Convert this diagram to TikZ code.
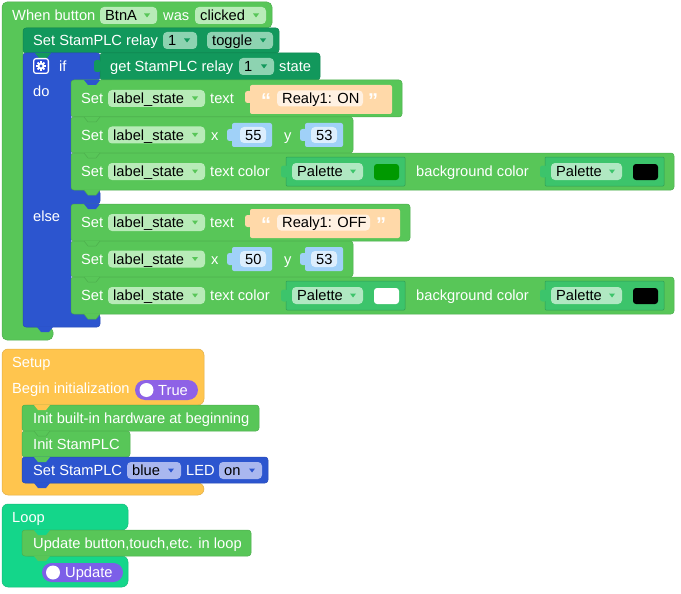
\documentclass[tikz,border=0pt]{standalone}
\usepackage{fontspec}
\setmainfont{Liberation Sans}

\definecolor{evgreen}{HTML}{58C658}
\definecolor{evfield}{HTML}{B8EBB8}
\definecolor{plcgreen}{HTML}{12985C}
\definecolor{plcfield}{HTML}{8DD3B1}
\definecolor{ctrlblue}{HTML}{2C55CF}
\definecolor{ctrlfield}{HTML}{A9B7EF}
\definecolor{setupyel}{HTML}{FFC54E}
\definecolor{loopteal}{HTML}{14D68A}
\definecolor{palgreen}{HTML}{3CC46B}
\definecolor{palfield}{HTML}{B0E8C2}
\definecolor{strblk}{HTML}{FFD9A9}
\definecolor{strfield}{HTML}{FFF1E2}
\definecolor{numblk}{HTML}{A0D1F8}
\definecolor{numfield}{HTML}{DCEEFD}
\definecolor{togpurple}{HTML}{8E62E6}
\definecolor{updpurple}{HTML}{7C5FE8}
\definecolor{swgreen}{HTML}{009900}

\begin{document}
\begin{tikzpicture}[
  x=1pt, y=-1pt,
  every node/.style={inner sep=0pt, font=\fontsize{14.67}{17}\selectfont},
  lbl/.style={anchor=base west, text=white},
  val/.style={anchor=base west, text=black},
  quot/.style={anchor=base west, text=white, font=\fontsize{20}{20}\selectfont\bfseries},
  blk/.style={fill=#1, draw=#1!88!black, line width=0.5pt, rounded corners=3pt},
  fld/.style={fill=#1, rounded corners=4pt},
  notch/.pic={\path[pic actions] (0,0) -- (4,5) -- (12,5) -- (16,0);},
  bump/.pic={\path[pic actions, rounded corners=2.5pt] (1,-6) -- (-6,-6) -- (-6,6) -- (1,6) -- cycle;}
]
  \useasboundingbox (0,0) rectangle (681,594);

  % event block
  \path[blk=evgreen, rounded corners=5pt] (2,2) -- (272,2) -- (272,28) -- (23,28) -- (23,327)
    -- (53,327) -- (53,340) -- (2,340) -- cycle;
  \path[blk=plcgreen] (23,28) rectangle (279,53);
  \path[blk=ctrlblue] (23,53) -- (100,53) -- (100,80) -- (71,80) -- (71,190) -- (100,190)
    -- (100,204) -- (71,204) -- (71,314) -- (100,314) -- (100,327) -- (23,327) -- cycle;
  \path[blk=plcgreen] (100,53) rectangle (320,80);
  \pic[fill=plcgreen] at (100,66) {bump};
  \pic[fill=plcgreen] at (35,53) {notch};
  \pic[fill=ctrlblue] at (37,327) {notch};

  \node[lbl] (when)  at (12,20.5) {When button};
  \node[lbl] (was)   at (163,20.5) {was};
  \node[lbl] (relay) at (33,45.5) {Set StamPLC relay};
  \node[lbl] (if)    at (59,71.5) {if};
  \node[lbl] (get)   at (110,71.5) {get StamPLC relay};
  \node[lbl] (state) at (279,71.5) {state};
  \node[lbl] (do)    at (33,97) {do};
  \node[lbl] (else)  at (33,221) {else};

  % mutator icon
  \fill[white, rounded corners=3pt] (33,58) rectangle (49,74);
  \fill[ctrlblue!85!blue, rounded corners=2pt] (34.3,59.3) rectangle (47.7,72.7);
  \foreach \a in {0,45,90,135}
    \fill[white, rotate around={\a:(41,66)}] (40,61.2) rectangle (42,70.8);
  \fill[white] (41,66) circle (3.6pt);
  \fill[ctrlblue] (41,66) circle (1.6pt);

  % do / else branches
  \foreach \g/\dy/\msg/\xv/\sw/\re/\oe/\fe/\qx in
    {on/0/Realy1: ON/55/swgreen/402/392/363/368, off/124/Realy1: OFF/50/white/410/400/370/376} {
  \begin{scope}[shift={(0,\dy)}]
    \path[blk=evgreen] (71,80) rectangle (\re,117);
    \path[blk=evgreen] (71,117) rectangle (353,153);
    \path[blk=evgreen] (71,153) rectangle (674,190);
    \pic[fill=ctrlblue] at (84,80) {notch};
    \foreach \yy in {117,153,190}
      \pic[fill=evgreen, draw=evgreen!88!black, line width=0.5pt] at (84,\yy) {notch};

    \foreach \c [count=\i] in {98.5,135,171.5} {
      \node[lbl] (set-\g-\i) at (81,\c+5) {Set};
      \fill[fld=evfield] (108,\c-8.5) rectangle (205,\c+8.5);
      \node[val] (lab-\g-\i) at (113,\c+5) {label\_state};
      \fill[evgreen] (192,\c-2) -- (198,\c-2) -- (195,\c+2) -- cycle;
    }

    % text
    \node[lbl] (text-\g) at (210,103.5) {text};
    \path[fill=strblk, rounded corners=2pt] (250,85) rectangle (\oe,114);
    \pic[fill=strblk] at (251,97) {bump};
    \fill[fld=strfield] (277,90.5) rectangle (\fe,106.5);
    \node[quot] (qa-\g) at (261,107.5) {“};
    \node[val] (msg-\g) at (282,103.5) {\msg};
    \node[quot] (qb-\g) at (\qx,107.5) {”};

    % position
    \node[lbl] (x-\g) at (211,140) {x};
    \path[fill=numblk, rounded corners=2pt] (232,123) rectangle (272,147);
    \pic[fill=numblk] at (233,135) {bump};
    \fill[fld=numfield] (240,127) rectangle (266,143);
    \node[val] (xv-\g) at (245,140) {\xv};
    \node[lbl] (y-\g) at (284,140) {y};
    \path[fill=numblk, rounded corners=2pt] (305,123) rectangle (343,147);
    \pic[fill=numblk] at (306,135) {bump};
    \fill[fld=numfield] (311,127) rectangle (337,143);
    \node[val] (yv-\g) at (316,140) {53};

    % colours
    \node[lbl] (tc-\g) at (210,176.5) {text color};
    \node[lbl] (bg-\g) at (416,176.5) {background color};
    \foreach \px/\sc [count=\k] in {286/\sw, 545/black} {
      \path[fill=palgreen, draw=palgreen!80!black, line width=0.5pt, rounded corners=1pt]
        (\px,157) rectangle (\px+119,186);
      \pic[fill=palgreen] at (\px+1,171.5) {bump};
      \fill[fld=palfield] (\px+6,163) rectangle (\px+77,180);
      \node[val] (pal-\g-\k) at (\px+11,176.5) {Palette};
      \fill[palgreen] (\px+64,169.5) -- (\px+70,169.5) -- (\px+67,173.5) -- cycle;
      \fill[\sc, rounded corners=3pt] (\px+88,164) rectangle (\px+113,180);
    }
  \end{scope}
  }

  % setup block
  \path[blk=setupyel, rounded corners=6pt] (2,349) -- (204,349) -- (204,405) -- (22,405) -- (22,483)
    -- (204,483) -- (204,495) -- (2,495) -- cycle;
  \path[blk=evgreen] (22,405) rectangle (259,431);
  \path[blk=evgreen] (22,431) rectangle (130,457);
  \path[blk=ctrlblue] (22,457) rectangle (268,483);
  \pic[fill=setupyel] at (34,405) {notch};
  \pic[fill=evgreen, draw=evgreen!88!black, line width=0.5pt] at (34,431) {notch};
  \pic[fill=evgreen] at (34,457) {notch};
  \pic[fill=ctrlblue] at (34,483) {notch};

  \node[lbl] (setup) at (12,367) {Setup};
  \node[lbl] (begin) at (12,393) {Begin initialization};
  \fill[togpurple, rounded corners=10pt] (135,380) rectangle (198,400);
  \fill[white] (146.5,390) circle (7pt);
  \node[lbl] (true) at (158,395) {True};
  \node[lbl] (inithw)  at (33,423) {Init built-in hardware at beginning};
  \node[lbl] (initplc) at (33,449) {Init StamPLC};
  \node[lbl] (led)     at (33,475) {Set StamPLC};
  \node[lbl] (ledtxt)  at (186,475) {LED};

  % loop block
  \path[blk=loopteal, rounded corners=6pt] (2,504) -- (128,504) -- (128,530) -- (22,530) -- (22,556)
    -- (128,556) -- (128,587) -- (2,587) -- cycle;
  \path[blk=evgreen] (22,530) rectangle (251,556);
  \pic[fill=loopteal] at (34,530) {notch};
  \pic[fill=evgreen] at (34,556) {notch};
  \node[lbl] (loop) at (12,522.5) {Loop};
  \node[lbl] (upbtn) at (33,548) {Update button,touch,etc. in loop};
  \fill[updpurple, rounded corners=9.5pt] (42,563) rectangle (123,582);
  \fill[white] (53,572.5) circle (7pt);
  \node[lbl] (update) at (65,577.5) {Update};

  % dropdown fields
  \foreach \n/\xa/\xb/\yc/\t/\fc/\bc in {
      btn/100/157/15.5/BtnA/evfield/evgreen,
      evt/195/266/15.5/clicked/evfield/evgreen,
      rly/163/197/40.5/1/plcfield/plcgreen,
      mode/207/273/40.5/toggle/plcfield/plcgreen,
      grly/239/274/66.5/1/plcfield/plcgreen,
      ledc/127/181/470.5/blue/ctrlfield/ctrlblue,
      ledon/219/262/470.5/on/ctrlfield/ctrlblue} {
    \fill[fld=\fc] (\xa,\yc-8.5) rectangle (\xb,\yc+8.5);
    \node[val] (dd-\n) at (\xa+5,\yc+5) {\t};
    \fill[\bc] (\xb-13,\yc-2) -- (\xb-7,\yc-2) -- (\xb-10,\yc+2) -- cycle;
  }
\end{tikzpicture}
\end{document}
